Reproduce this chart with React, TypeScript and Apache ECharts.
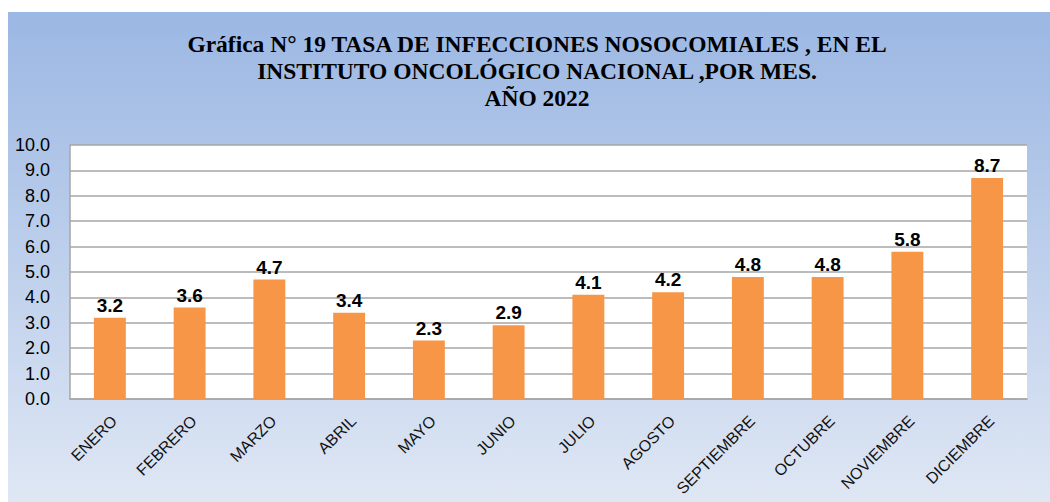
import React, { useEffect, useRef } from "react";
import * as echarts from "echarts";

const categories = ["ENERO", "FEBRERO", "MARZO", "ABRIL", "MAYO", "JUNIO", "JULIO", "AGOSTO", "SEPTIEMBRE", "OCTUBRE", "NOVIEMBRE", "DICIEMBRE"];
const values = [3.2, 3.6, 4.7, 3.4, 2.3, 2.9, 4.1, 4.2, 4.8, 4.8, 5.8, 8.7];
const titleLines = ["Gráfica N° 19 TASA DE INFECCIONES NOSOCOMIALES , EN EL", "INSTITUTO ONCOLÓGICO NACIONAL ,POR MES.", "AÑO 2022"];

export default function App() {
  const ref = useRef<HTMLDivElement>(null);
  useEffect(() => {
    const chart = echarts.init(ref.current!, undefined, { renderer: "svg" });
    chart.setOption({
      animation: false,
      backgroundColor: {
        type: "linear", x: 0, y: 0, x2: 0, y2: 1,
        colorStops: [
          { offset: 0, color: "#9bb7e3" },
          { offset: 1, color: "#dfe7f4" },
        ],
      },
      graphic: [
        {
          type: "text",
          x: 529,
          y: 18,
          style: {
            text: titleLines.join("\n"),
            align: "center",
            verticalAlign: "top",
            font: "bold 23.5px 'Liberation Serif'",
            lineHeight: 27,
            fill: "#000",
          },
        },
      ],
      grid: { left: 62, right: 23, top: 133, bottom: 103, show: true, backgroundColor: "#ffffff", borderWidth: 0 },
      xAxis: {
        type: "category",
        data: categories,
        axisLine: { lineStyle: { color: "#a6a6a6", width: 1.5 } },
        axisTick: { show: false },
        axisLabel: {
          rotate: 45,
          interval: 0,
          color: "#111",
          fontFamily: "Liberation Sans",
          fontSize: 16,
          margin: 15,
          verticalAlign: "top",
          lineHeight: 12,
        },
      },
      yAxis: {
        type: "value",
        min: 0,
        max: 10,
        interval: 1,
        axisLine: { show: true, lineStyle: { color: "#a6a6a6", width: 1.5 } },
        axisTick: { show: false },
        axisLabel: {
          formatter: (v: number) => v.toFixed(1),
          color: "#000",
          fontFamily: "Liberation Sans",
          fontSize: 18,
          margin: 20,
        },
        splitLine: { lineStyle: { color: "#a6a6a6", width: 1.5 } },
      },
      series: [
        {
          type: "bar",
          data: values,
          barWidth: "40%",
          itemStyle: { color: "#f79646" },
          label: {
            show: true,
            position: "top",
            formatter: (p: any) => p.value.toFixed(1),
            color: "#000",
            fontWeight: "bold",
            fontFamily: "Liberation Sans",
            fontSize: 19,
            distance: 3,
          },
        },
      ],
    });
    return () => chart.dispose();
  }, []);
  return (
    <div style={{ position: "absolute", left: 8, top: 12, width: 1042, height: 490, background: "#fff" }}>
      <div ref={ref} style={{ width: 1042, height: 490 }} />
    </div>
  );
}
